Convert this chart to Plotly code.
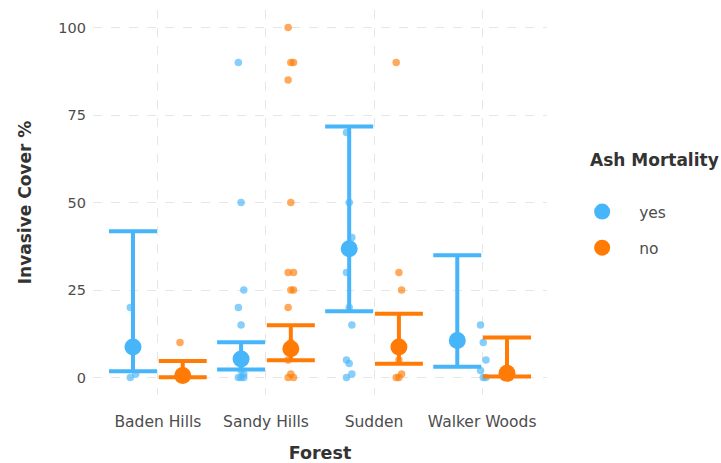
import plotly.graph_objects as go

# Forests on the x axis and the two ash-mortality groups
forests = ["Baden Hills", "Sandy Hills", "Sudden", "Walker Woods"]
groups = ["yes", "no"]

# Plot-level invasive cover observations (%)
cover_yes = {
    "Baden Hills": [20, 8, 1, 0],
    "Sandy Hills": [90, 50, 25, 20, 15, 5, 5, 2, 1, 0, 0, 0],
    "Sudden": [70, 50, 40, 30, 20, 15, 5, 4, 1, 0],
    "Walker Woods": [15, 10, 5, 2, 0, 0],
}
cover_no = {
    "Baden Hills": [10, 0, 0, 0],
    "Sandy Hills": [100, 90, 90, 85, 50, 30, 30, 25, 25, 20, 10, 8, 5, 1, 0, 0],
    "Sudden": [90, 30, 25, 8, 5, 1, 0, 0],
    "Walker Woods": [2, 1, 0, 0],
}

# Group means with lower / upper interval limits
mean_yes = [8.7, 5.3, 36.8, 10.6]
low_yes = [1.8, 2.3, 18.9, 3.1]
high_yes = [41.8, 10.1, 71.7, 34.9]
mean_no = [0.6, 8.2, 8.7, 1.2]
low_no = [0.1, 4.9, 3.9, 0.3]
high_no = [4.7, 14.9, 18.2, 11.4]

colors = {"yes": "#47B5F9", "no": "#FF7B05"}
dodge = {"yes": -0.23, "no": 0.23}
# extra horizontal shift of the raw points of a group (category units)
point_shift = {("Walker Woods", "yes"): 0.24}

FONT = "DejaVu Sans, Verdana, sans-serif"
TEXT = "#4D4D4D"
TITLE = "#333333"

fig = go.Figure()

for g, cover, means, lows, highs in [
    ("yes", cover_yes, mean_yes, low_yes, high_yes),
    ("no", cover_no, mean_no, low_no, high_no),
]:
    # raw observations, small deterministic jitter
    xs, ys = [], []
    for i, f in enumerate(forests):
        base = i + 1 + dodge[g] + point_shift.get((f, g), 0.0)
        for k, v in enumerate(cover[f]):
            xs.append(base + ((k % 3) - 1) * 0.025)
            ys.append(v)
    fig.add_trace(go.Scatter(
        x=xs, y=ys, mode="markers", showlegend=False, hoverinfo="skip",
        marker=dict(color=colors[g], size=7.5, opacity=0.65, line=dict(width=0)),
    ))

    # mean with interval
    xm = [i + 1 + dodge[g] for i in range(len(forests))]
    fig.add_trace(go.Scatter(
        x=xm, y=means, mode="markers", name=g,
        legendgroup=g,
        marker=dict(color=colors[g], size=17, symbol="circle"),
        error_y=dict(
            type="data", symmetric=False,
            array=[h - m for h, m in zip(highs, means)],
            arrayminus=[m - l for m, l in zip(means, lows)],
            color=colors[g], thickness=4, width=24,
        ),
    ))

grid = dict(showgrid=True, gridcolor="#E6E6E6", gridwidth=1.3, griddash="dash",
            zeroline=False, showline=False, ticks="", automargin=False)

fig.update_layout(
    width=721, height=463,
    margin=dict(l=93, r=174, t=10, b=68),
    plot_bgcolor="white", paper_bgcolor="white",
    font=dict(family=FONT, color=TEXT, size=15),
    xaxis=dict(
        range=[0.4, 4.6], tickvals=[1, 2, 3, 4], ticktext=forests,
        tickfont=dict(size=15.5, color=TEXT), ticklabelstandoff=15,
        title=dict(text="<b>Forest</b>", font=dict(size=17.5, color=TITLE), standoff=17),
        **grid,
    ),
    yaxis=dict(
        range=[-5, 105], tickvals=[0, 25, 50, 75, 100],
        tickfont=dict(size=14.5, color=TEXT), ticklabelstandoff=6,
        title=dict(text="<b>Invasive Cover %</b>", font=dict(size=17, color=TITLE), standoff=22),
        **grid,
    ),
    legend=dict(
        x=1.04, xanchor="left", y=0.5195, yanchor="top",
        font=dict(size=15.5, color=TEXT),
        tracegroupgap=13, itemwidth=64,
        bgcolor="rgba(0,0,0,0)",
    ),
    annotations=[dict(
        text="<b>Ash Mortality</b>", xref="paper", yref="paper",
        x=1 + (588 - 547) / 454, xanchor="left",
        y=(395 - 160) / 385, yanchor="middle",
        showarrow=False, font=dict(size=17, color=TITLE, family=FONT),
    )],
)

fig.write_html("out.html")
